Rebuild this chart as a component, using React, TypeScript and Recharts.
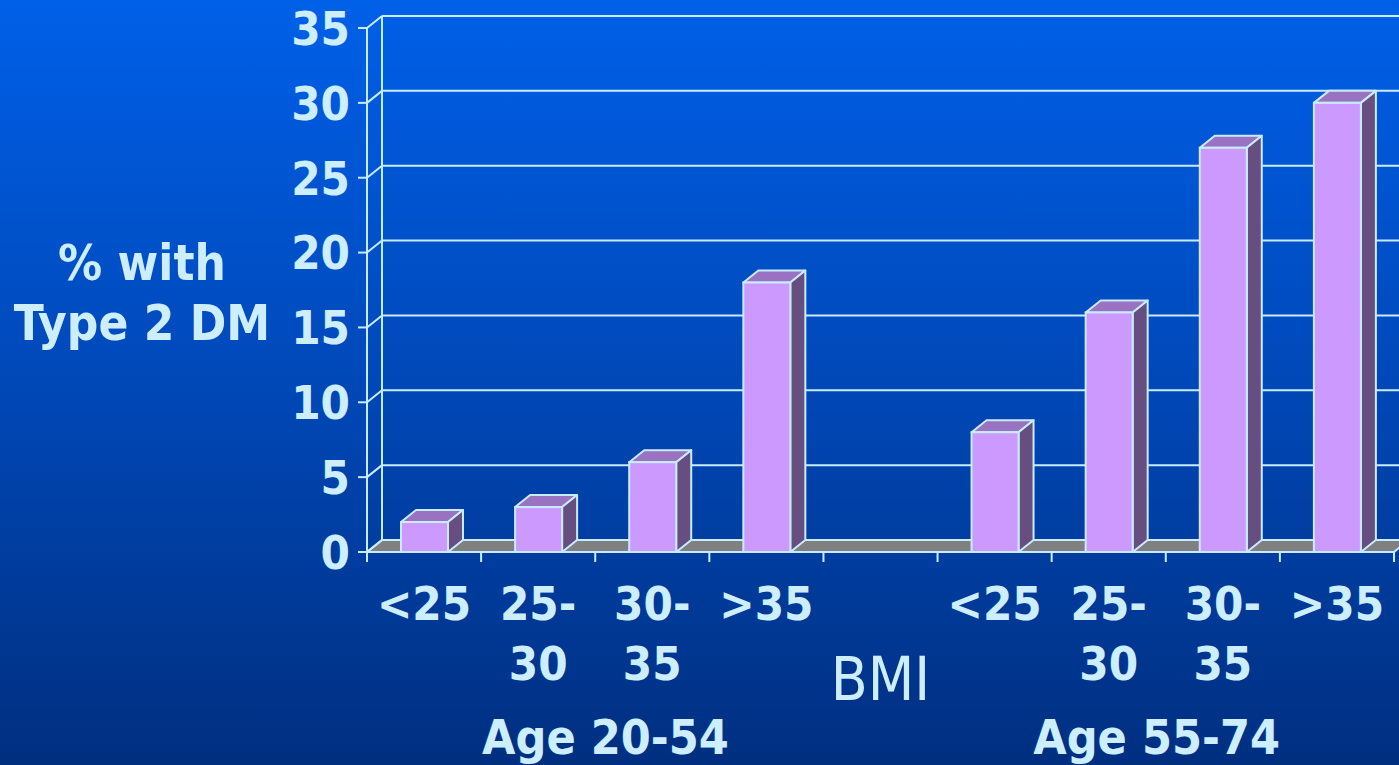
import { BarChart, Bar, XAxis, YAxis, CartesianGrid, Label } from "recharts";

// BMI categories, two age groups, empty slot in between for the "BMI" title
const bmiTop = ["<25", "25-", "30-", ">35", "", "<25", "25-", "30-", ">35"];
const bmiBottom = ["", "30", "35", "", "", "", "30", "35", ""];
const pctType2DM = [2, 3, 6, 18, null, 8, 16, 27, 30];
const yTicks = [0, 5, 10, 15, 20, 25, 30, 35];
const ageGroups = ["Age 20-54", "Age 55-74"];
// group label centres, in category-index units
const ageGroupCenters = [1.59, 6.42];
const axisTitle = "BMI";
const yTitle = ["% with", "Type 2 DM"];

const data = bmiTop.map((t, i) => ({ idx: i, value: pctType2DM[i] }));

const LINE = "#c8ecff";
const TEXT = "#cceeff";
const FONT = "'DejaVu Sans Condensed', 'DejaVu Sans', sans-serif";
const DX = 15;
const DY = 12;

const Bar3D = (props: any) => {
  const { x, y, width, height, value } = props;
  if (value == null || !height) return null;
  const r = x + width;
  const b = y + height;
  return (
    <g>
      <polygon
        points={`${x},${y} ${x + DX},${y - DY} ${r + DX},${y - DY} ${r},${y}`}
        fill="#9a72c2"
        stroke={LINE}
        strokeWidth={2}
        strokeLinejoin="round"
      />
      <polygon
        points={`${r},${y} ${r + DX},${y - DY} ${r + DX},${b - DY} ${r},${b}`}
        fill="#664e80"
        stroke={LINE}
        strokeWidth={2}
        strokeLinejoin="round"
      />
      <rect x={x} y={y} width={width} height={height} fill="#cc99ff" stroke={LINE} strokeWidth={2} />
    </g>
  );
};

const gridLine = (props: any) => {
  const { x1, y1, x2, y, height } = props;
  const bottom = y + height;
  const isFloor = Math.abs(y1 - bottom) < 0.5;
  const isTop = Math.abs(y1 - y) < 0.5;
  return (
    <g key={props.key}>
      {isFloor && (
        <polygon
          points={`${x1},${y1} ${x1 + DX},${y1 - DY} ${x2 + DX},${y1 - DY} ${x2},${y1}`}
          fill="#808080"
          stroke={LINE}
          strokeWidth={2}
        />
      )}
      <line x1={x1} y1={y1} x2={x1 + DX} y2={y1 - DY} stroke={LINE} strokeWidth={2} />
      <line x1={x1 + DX} y1={y1 - DY} x2={x2 + DX} y2={y1 - DY} stroke={LINE} strokeWidth={2} />
      {isTop && <line x1={x1 + DX} y1={y1 - DY} x2={x1 + DX} y2={bottom - DY} stroke={LINE} strokeWidth={2} />}
    </g>
  );
};

const YTick = (props: any) => {
  const { x, y, payload } = props;
  return (
    <text x={x} y={y} dy="0.36em" textAnchor="end" fill={TEXT} fontFamily={FONT} fontWeight="bold" fontSize={47}>
      {payload.value}
    </text>
  );
};

const XTick = (props: any) => {
  const { x, y, payload } = props;
  const i = payload.value as number;
  const off = payload.offset ?? 57;
  const last = i === bmiTop.length - 1;
  return (
    <g>
      <line x1={x - off} y1={y} x2={x - off} y2={y + 10} stroke={LINE} strokeWidth={2} />
      {last && <line x1={x + off} y1={y} x2={x + off} y2={y + 10} stroke={LINE} strokeWidth={2} />}
      {bmiTop[i] ? (
        <text textAnchor="middle" fill={TEXT} fontFamily={FONT} fontWeight="bold" fontSize={47}>
          <tspan x={x} y={y + 68}>{bmiTop[i]}</tspan>
          <tspan x={x} y={y + 128}>{bmiBottom[i]}</tspan>
        </text>
      ) : (
        <text x={x} y={y + 148} textAnchor="middle" fill={TEXT} fontFamily={FONT} fontSize={60}>
          {axisTitle}
        </text>
      )}
    </g>
  );
};

const GroupTick = (props: any) => {
  const { x, y, index } = props;
  return (
    <text x={x} y={y + 52} textAnchor="middle" fill={TEXT} fontFamily={FONT} fontWeight="bold" fontSize={48}>
      {ageGroups[index]}
    </text>
  );
};

const YTitle = (props: any) => {
  const vb = props.viewBox;
  const cx = vb.x + 142;
  const mid = vb.y + vb.height / 2;
  return (
    <text textAnchor="middle" fill={TEXT} fontFamily={FONT} fontWeight="bold" fontSize={49}>
      <tspan x={cx} y={mid - 10}>{yTitle[0]}</tspan>
      <tspan x={cx} y={mid + 50}>{yTitle[1]}</tspan>
    </text>
  );
};

export default function App() {
  return (
    <div
      style={{
        position: "absolute",
        left: 0,
        top: 0,
        width: 1399,
        height: 765,
        overflow: "hidden",
        background: "linear-gradient(180deg, #0060e8 0%, #0048b8 50%, #002f80 100%)",
      }}
    >
      <BarChart width={1420} height={765} data={data} barSize={47} margin={{ top: 28, right: 26, left: 0, bottom: 0 }}>
        <CartesianGrid vertical={false} horizontal={gridLine} />
        <XAxis
          dataKey="idx"
          tick={<XTick />}
          tickSize={0}
          tickMargin={0}
          tickLine={false}
          interval={0}
          height={150}
          axisLine={{ stroke: LINE, strokeWidth: 2 }}
        />
        <XAxis
          xAxisId="grp"
          dataKey="idx"
          type="number"
          domain={[-0.5, bmiTop.length - 0.5]}
          allowDataOverflow
          ticks={ageGroupCenters}
          interval={0}
          tick={<GroupTick />}
          tickSize={0}
          tickMargin={0}
          tickLine={false}
          axisLine={false}
          height={63}
        />
        <YAxis
          domain={[0, 35]}
          ticks={yTicks}
          interval={0}
          width={367}
          tickSize={9}
          tickMargin={8}
          tick={<YTick />}
          axisLine={{ stroke: LINE, strokeWidth: 2 }}
          tickLine={{ stroke: LINE, strokeWidth: 2 }}
        >
          <Label content={<YTitle />} />
        </YAxis>
        <Bar dataKey="value" shape={<Bar3D />} isAnimationActive={false} />
      </BarChart>
    </div>
  );
}
